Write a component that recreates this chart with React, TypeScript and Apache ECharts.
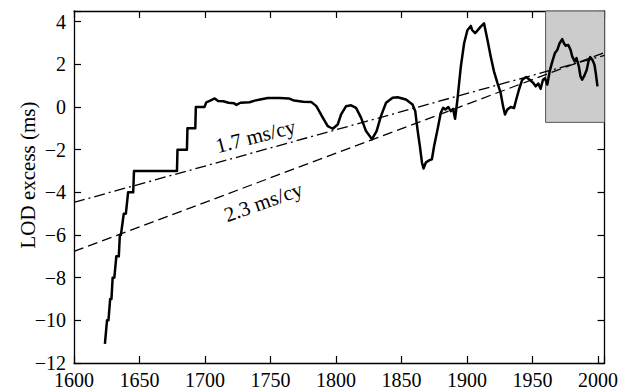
import React, { useEffect, useRef } from "react";
import * as echarts from "echarts";

// LOD excess curve (year, ms)
const lodYears = [
  1623.6, 1625.2, 1626.3, 1627.6, 1628.6, 1629.5, 1630.8, 1632.3, 1634.2, 1635.0, 1635.8, 1638.0, 1639.6,
  1641.3, 1645.2, 1645.8, 1678.6, 1679.0, 1686.2, 1686.6, 1692.6, 1693.0, 1699.6, 1701.0, 1704.0, 1707.4,
  1710.0, 1714.0, 1718.0, 1722.0, 1724.0, 1727.0, 1734.0, 1738.0, 1742.0, 1748.0, 1757.0, 1764.0, 1768.0,
  1775.0, 1781.0, 1785.0, 1789.9, 1793.7, 1797.5, 1801.3, 1803.9, 1807.7, 1811.5, 1815.3, 1819.1, 1822.9,
  1827.5, 1831.0, 1834.3, 1838.2, 1843.2, 1847.0, 1853.4, 1858.4, 1860.5, 1862.2, 1864.0, 1865.6, 1866.8,
  1868.6, 1871.1, 1873.2, 1874.9, 1877.5, 1880.0, 1881.8, 1883.5, 1885.8, 1887.6, 1889.4, 1890.9, 1892.7,
  1895.3, 1897.8, 1900.3, 1902.9, 1903.9, 1906.2, 1908.7, 1910.5, 1913.0, 1915.6, 1918.1, 1920.6, 1923.2,
  1925.7, 1927.5, 1929.0, 1930.8, 1933.4, 1935.9, 1937.6, 1939.7, 1942.2, 1945.2, 1947.8, 1950.3, 1952.4,
  1954.4, 1956.2, 1958.0, 1959.5, 1961.3, 1963.1, 1965.1, 1967.1, 1968.9, 1970.7, 1972.7, 1974.0, 1975.3,
  1977.3, 1979.1, 1980.3, 1982.3, 1983.6, 1985.4, 1986.6, 1987.9, 1989.6, 1991.4, 1992.7, 1994.0, 1995.7,
  1997.3, 1998.3, 1999.6,
];
const lodValues = [
  -11.1, -10.0, -10.0, -9.0, -9.0, -8.0, -8.0, -7.0, -7.0, -6.0, -6.0, -5.0, -5.0,
  -4.0, -4.0, -3.0, -3.0, -2.0, -2.0, -1.0, -1.0, 0.0, 0.0, 0.22, 0.3, 0.4,
  0.28, 0.27, 0.2, 0.18, 0.1, 0.2, 0.22, 0.3, 0.35, 0.42, 0.42, 0.4, 0.3,
  0.25, 0.24, 0.04, -0.5, -0.9, -1.02, -0.82, -0.35, 0.04, 0.08, -0.04, -0.5, -1.13,
  -1.51, -1.13, -0.43, 0.2, 0.43, 0.46, 0.35, 0.12, -0.2, -1.05, -1.83, -2.6, -2.88,
  -2.6, -2.5, -2.45, -1.83, -1.05, -0.27, -0.04, -0.12, 0.0, -0.2, -0.09, -0.55, 0.35,
  1.9, 2.99, 3.6, 3.8, 3.61, 3.46, 3.64, 3.77, 3.92, 3.15, 2.37, 1.67, 1.13,
  0.66, 0.04, -0.35, -0.12, 0.0, -0.05, 0.35, 0.82, 1.28, 1.41, 1.28, 1.15, 0.97,
  1.1, 0.85, 1.28, 1.35, 1.05, 1.67, 2.13, 2.53, 2.67, 2.99, 3.18, 2.99, 2.87,
  2.91, 2.67, 2.37, 2.13, 2.29, 1.9, 1.44, 1.28, 1.47, 1.75, 2.13, 2.34, 2.21,
  1.98, 1.59, 0.97,
];

// Trend lines (end points)
const trend17Years = [1600, 2005];
const trend17Values = [-4.47, 2.42];
const trend23Years = [1600, 2005];
const trend23Values = [-6.77, 2.55];

// Shaded box (modern period)
const boxYears = [1960, 2005];
const boxValues = [-0.72, 4.5];

// Annotations
const annotationTexts = ["1.7 ms/cy", "2.3 ms/cy"];
const annotationYears = [1738.6, 1744.5];
const annotationValues = [-1.37, -4.45];
const annotationAngles = [14.5, 19.5];

const yAxisTitle = "LOD excess (ms)";
const xTickValues = [1600, 1650, 1700, 1750, 1800, 1850, 1900, 1950, 2000];
const yTickValues = [-12, -10, -8, -6, -4, -2, 0, 2, 4];

const FONT = "'Liberation Serif', 'Times New Roman', serif";

const fmt = (v: number) => (v < 0 ? "\u2212" + Math.abs(v) : String(v));

export default function App() {
  const ref = useRef<HTMLDivElement>(null);
  useEffect(() => {
    if (!ref.current) return;
    const chart = echarts.init(ref.current, null, { renderer: "svg" });
    const axisLine = { show: true, onZero: false, lineStyle: { color: "#000", width: 1.3 } };
    const tick = { show: true, inside: true, length: 7, lineStyle: { color: "#000", width: 1.2 } };
    const xLabel = {
      show: true,
      color: "#000",
      fontFamily: FONT,
      fontSize: 20,
      margin: 7,
      formatter: (v: number) => (xTickValues.includes(v) ? fmt(v) : ""),
    };
    const yLabel = {
      show: true,
      color: "#000",
      fontFamily: FONT,
      fontSize: 20,
      margin: 8,
      formatter: (v: number) => (yTickValues.includes(v) ? fmt(v) : ""),
    };
    chart.setOption({
      animation: false,
      grid: { left: 74, right: 15, top: 11, bottom: 25, containLabel: false },
      xAxis: [
        {
          type: "value", min: 1600, max: 2005, interval: 50, position: "bottom",
          axisLine, axisTick: tick, axisLabel: xLabel, splitLine: { show: false },
        },
        {
          type: "value", min: 1600, max: 2005, interval: 50, position: "top",
          axisLine, axisTick: tick, axisLabel: { show: false }, splitLine: { show: false },
        },
      ],
      yAxis: [
        {
          type: "value", min: -12, max: 4.5, interval: 2, position: "left",
          axisLine, axisTick: tick, axisLabel: yLabel, splitLine: { show: false },
        },
        {
          type: "value", min: -12, max: 4.5, interval: 2, position: "right",
          axisLine, axisTick: tick, axisLabel: { show: false }, splitLine: { show: false },
        },
      ],
      series: [
        {
          type: "custom",
          z: 1,
          renderItem: (params: any, api: any) => {
            const p0 = api.coord([api.value(0), api.value(1)]);
            const p1 = api.coord([api.value(2), api.value(3)]);
            return {
              type: "rect",
              shape: { x: p0[0], y: p1[1], width: p1[0] - p0[0], height: p0[1] - p1[1] },
              style: { fill: "#cccccc", stroke: "#555555", lineWidth: 1 },
            };
          },
          encode: { x: [0, 2], y: [1, 3] },
          data: [[boxYears[0], boxValues[0], boxYears[1], boxValues[1]]],
        },
        {
          type: "line",
          z: 2,
          showSymbol: false,
          data: trend17Years.map((x, i) => [x, trend17Values[i]]),
          lineStyle: { color: "#000", width: 1.3, type: [11, 4, 2, 4] },
        },
        {
          type: "line",
          z: 2,
          showSymbol: false,
          data: trend23Years.map((x, i) => [x, trend23Values[i]]),
          lineStyle: { color: "#000", width: 1.3, type: [10, 5] },
        },
        {
          type: "line",
          z: 3,
          showSymbol: false,
          data: lodYears.map((x, i) => [x, lodValues[i]]),
          lineStyle: { color: "#000", width: 2.5, join: "round" },
        },
      ],
    });
    const texts: any[] = annotationTexts.map((t, i) => {
      const p = chart.convertToPixel({ gridIndex: 0 }, [annotationYears[i], annotationValues[i]]);
      return {
        type: "text",
        x: p[0],
        y: p[1],
        rotation: (annotationAngles[i] * Math.PI) / 180,
        style: {
          text: t, fill: "#000", font: `21px ${FONT}`,
          textAlign: "center", textVerticalAlign: "middle",
        },
        z: 10,
      };
    });
    texts.push({
      type: "text",
      x: 28,
      y: 175,
      rotation: Math.PI / 2,
      style: {
        text: yAxisTitle, fill: "#000", font: `21px ${FONT}`,
        textAlign: "center", textVerticalAlign: "middle",
      },
    });
    chart.setOption({ graphic: texts });
    return () => chart.dispose();
  }, []);
  return <div ref={ref} style={{ width: 621, height: 390, position: "absolute", left: 0, top: 0 }} />;
}
